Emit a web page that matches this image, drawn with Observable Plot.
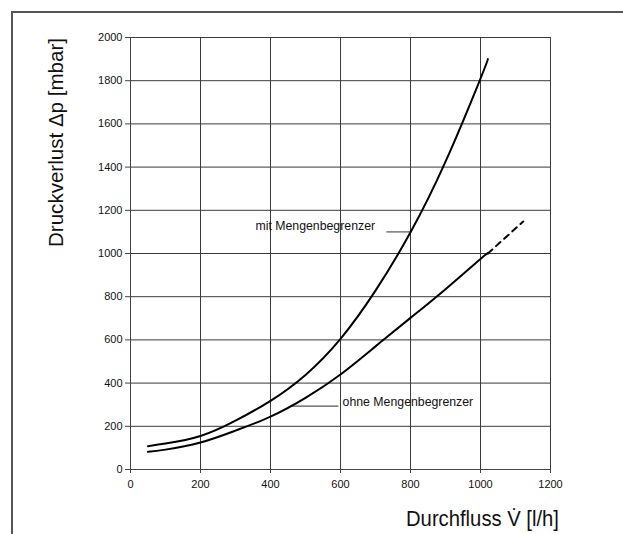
<!DOCTYPE html>
<html><head><meta charset="utf-8">
<script src="https://cdn.jsdelivr.net/npm/d3@7"></script>
<script src="https://cdn.jsdelivr.net/npm/@observablehq/plot@0.6"></script>
<style>
html,body{margin:0;padding:0;background:#fff;overflow:hidden}
</style></head><body>
<div id="chart"></div>
<script>
// flow [l/h] and pressure loss [mbar]
const flowMit = [50, 100, 200, 300, 400, 500, 600, 700, 800, 900, 1000, 1021];
const dpMit   = [108, 120, 155, 226, 318, 438, 605, 828, 1098, 1425, 1810, 1900];
const flowOhne = [50, 100, 200, 300, 400, 500, 600, 700, 800, 900, 1000, 1021];
const dpOhne   = [82, 92, 125, 180, 245, 332, 440, 570, 702, 835, 975, 1000];
const flowOhneExt = [1021, 1122];
const dpOhneExt   = [1000, 1148];
const xTicks = [0, 200, 400, 600, 800, 1000, 1200];
const yTicks = [0, 200, 400, 600, 800, 1000, 1200, 1400, 1600, 1800, 2000];
const labelTexts = ["mit Mengenbegrenzer", "ohne Mengenbegrenzer"];
const labelX = [357, 606];
const labelY = [1125, 310];
const leaderX1 = [731, 457];
const leaderX2 = [800, 594];
const leaderY = [1100, 293];
const xTitle = "Durchfluss V̇ [l/h]";
const yTitle = "Druckverlust Δp [mbar]";

const mit = flowMit.map((x, i) => ({x, y: dpMit[i]}));
const ohne = flowOhne.map((x, i) => ({x, y: dpOhne[i]}));
const ext = flowOhneExt.map((x, i) => ({x, y: dpOhneExt[i]}));
const labels = labelTexts.map((t, i) => ({t, x: labelX[i], y: labelY[i]}));
const leaders = labelTexts.map((t, i) => ({x1: leaderX1[i], x2: leaderX2[i], y: leaderY[i]}));

const font = "'Liberation Sans', Arial, sans-serif";
const chart = Plot.plot({
  width: 623, height: 534,
  marginLeft: 130, marginRight: 73, marginTop: 37, marginBottom: 65,
  style: {fontFamily: font, fontSize: "11px", color: "#111", background: "#fff"},
  x: {domain: [0, 1200], ticks: xTicks},
  y: {domain: [0, 2000], ticks: yTicks},
  marks: [
    Plot.gridX(xTicks, {stroke: "#3a3a3a", strokeOpacity: 1, strokeWidth: 1}),
    Plot.gridY(yTicks, {stroke: "#3a3a3a", strokeOpacity: 1, strokeWidth: 1}),
    Plot.axisX({ticks: xTicks, tickSize: 4, tickPadding: 7, label: null, fontSize: 11, stroke: "#444", tickFormat: d => String(d)}),
    Plot.axisY({ticks: yTicks, tickSize: 5, tickPadding: 3, label: null, fontSize: 11, stroke: "#444", tickFormat: d => String(d)}),
    Plot.ruleX([0], {stroke: "#444"}),
    Plot.ruleY([0], {stroke: "#444"}),
    Plot.link(leaders, {x1: "x1", x2: "x2", y1: "y", y2: "y", stroke: "#555", strokeWidth: 1.2}),
    Plot.line(mit, {x: "x", y: "y", stroke: "#000", strokeWidth: 2, curve: "natural"}),
    Plot.line(ohne, {x: "x", y: "y", stroke: "#000", strokeWidth: 2, curve: "natural"}),
    Plot.line(ext, {x: "x", y: "y", stroke: "#000", strokeWidth: 2, strokeDasharray: "6,5"}),
    Plot.text(labels, {x: "x", y: "y", text: "t", textAnchor: "start", fontSize: 12.3, fill: "#111"})
  ]
});
document.getElementById("chart").appendChild(chart);

const svg = d3.select(chart);
// outer frame (top and left edges)
svg.append("path").attr("d", "M12,534V12H630").attr("fill", "none").attr("stroke", "#555").attr("stroke-width", 2);
// axis titles
svg.append("text").text(xTitle)
  .attr("x", 406).attr("y", 526).attr("text-anchor", "start")
  .attr("font-family", font).attr("font-size", 22).attr("fill", "#111")
  .attr("textLength", 153).attr("lengthAdjust", "spacingAndGlyphs");
svg.append("text").text(yTitle)
  .attr("transform", "translate(63,142.5) rotate(-90)")
  .attr("text-anchor", "middle")
  .attr("font-family", font).attr("font-size", 21).attr("fill", "#111")
  .attr("textLength", 209).attr("lengthAdjust", "spacingAndGlyphs");
</script>
</body></html>
